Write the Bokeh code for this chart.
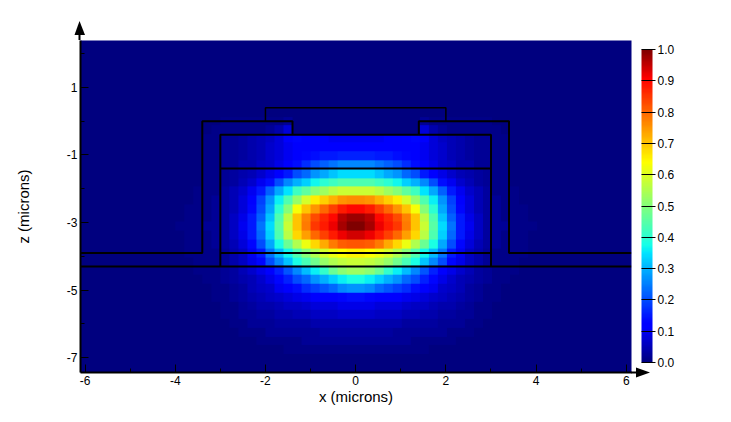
import numpy as np
from bokeh.embed import file_html
from bokeh.models import (ColorBar, Div, FixedTicker, LinearColorMapper,
                          PrintfTickFormatter, Range1d)
from bokeh.plotting import figure
from bokeh.resources import INLINE

x_ticks = [-6, -4, -2, 0, 2, 4, 6]
x_minor = [-5, -3, -1, 1, 3, 5]
z_ticks = [1, -1, -3, -5, -7]
z_minor = [2, 0, -2, -4, -6]
cbar_ticks = [0.0, 0.1, 0.2, 0.3, 0.4, 0.5, 0.6, 0.7, 0.8, 0.9, 1.0]

# half-width field table (percent), symmetric about x=0; cols x=.1,.3,...4.3
z_centres = [-0.01, -0.27, -0.53, -0.79, -1.05, -1.31, -1.57, -1.83, -2.09, -2.35, -2.61, -2.87,
             -3.13, -3.39, -3.65, -3.91, -4.17, -4.43, -4.69, -4.95, -5.21, -5.47, -5.73, -5.99,
             -6.25, -6.51, -6.77, -7.03]
field_rows = [
    [0, 0, 0, 0, 0, 0, 0, 2, 1, 1, 1, 1, 1, 1, 1, 0],
    [0, 0, 0, 0, 0, 0, 0, 8, 4, 2, 1, 1, 1, 1, 1, 1, 0],
    [10, 10, 10, 11, 11, 12, 13, 11, 8, 6, 5, 4, 3, 2, 2, 1, 1],
    [12, 12, 12, 12, 11, 11, 11, 10, 8, 7, 5, 4, 3, 2, 2, 1, 1],
    [16, 16, 15, 15, 14, 13, 11, 10, 8, 7, 5, 4, 3, 2, 2, 1, 1],
    [26, 26, 24, 22, 20, 17, 14, 11, 9, 7, 6, 4, 4, 2, 2, 1, 1],
    [34, 34, 32, 29, 27, 23, 20, 15, 12, 9, 7, 5, 4, 3, 2, 1, 1],
    [44, 44, 42, 40, 37, 33, 30, 26, 20, 14, 10, 7, 5, 3, 2, 1, 1],
    [58, 58, 56, 53, 50, 46, 42, 35, 29, 22, 15, 10, 7, 5, 3, 1, 1, 1],
    [76, 75, 72, 69, 66, 59, 52, 44, 36, 27, 19, 12, 8, 5, 3, 2, 1, 1],
    [90, 88, 84, 80, 75, 70, 63, 50, 40, 29, 20, 13, 8, 5, 3, 2, 1, 1, 1],
    [98, 96, 90, 87, 83, 77, 70, 56, 44, 32, 22, 15, 9, 6, 3, 2, 1, 1, 1],
    [100, 97, 92, 88, 85, 78, 70, 58, 45, 34, 24, 15, 10, 6, 3, 2, 2, 1, 1, 1],
    [94, 92, 88, 84, 80, 74, 68, 56, 44, 33, 23, 15, 9, 6, 3, 2, 1, 1, 1],
    [82, 81, 78, 73, 68, 62, 55, 47, 38, 29, 20, 13, 8, 5, 3, 2, 1, 1, 1],
    [65, 64, 62, 59, 55, 50, 44, 37, 31, 24, 15, 10, 6, 4, 2, 1, 1, 1, 1],
    [58, 57, 55, 52, 48, 43, 38, 32, 26, 20, 13, 9, 6, 4, 2, 1, 1, 1],
    [53, 51, 47, 41, 36, 31, 26, 21, 16, 11, 9, 7, 5, 3, 2, 1, 1, 1],
    [38, 36, 33, 30, 27, 23, 20, 16, 13, 9, 7, 5, 4, 3, 2, 1, 1],
    [27, 26, 23, 21, 19, 17, 14, 11, 10, 7, 6, 5, 3, 2, 1, 1],
    [14, 13, 12, 12, 11, 10, 9, 8, 7, 6, 5, 4, 3, 2, 1, 1],
    [9, 9, 8, 8, 8, 7, 6, 6, 5, 4, 4, 3, 2, 1, 1],
    [7, 7, 6, 6, 6, 5, 5, 4, 4, 3, 3, 2, 2, 1, 1],
    [4, 4, 4, 4, 4, 3, 3, 3, 3, 2, 2, 2, 1, 1],
    [3, 3, 3, 3, 2, 2, 2, 2, 2, 2, 1, 1, 1],
    [2, 2, 2, 2, 2, 2, 1, 1, 1, 1, 1],
    [1, 1, 1, 1, 1, 1, 1, 1],
    [0, 0, 0, 0],
]

# device outlines (microns)
ridge_x = [-2.0, -2.0, 2.0, 2.0]
ridge_z = [0.0, 0.4, 0.4, 0.0]
left_x = [-6.1, -3.4, -3.4, -1.4, -1.4]
left_z = [-3.9, -3.9, 0.0, 0.0, -0.4]
right_x = [6.11, 3.4, 3.4, 1.4, 1.4]
right_z = [-3.9, -3.9, 0.0, 0.0, -0.4]
box_x = [-3.0, -3.0, 3.0, 3.0]
box_z = [-4.3, -0.4, -0.4, -4.3]
layer_xs = [[-3.0, 3.0], [-3.0, 3.0], [-6.1, 6.11]]
layer_zs = [[-1.4, -1.4], [-3.9, -3.9], [-4.3, -4.3]]

X0, X1, Z0, Z1 = -6.1, 6.115, -7.44, 2.39
N_COLS, CELL_W, CELL_H = 22, 0.2, 0.26


def jet(v):
    r = np.interp(v, [0, .35, .64, .91, 1], [0, 0, 1, 1, .5])
    g = np.interp(v, [0, .125, .375, .64, .91, 1], [0, 0, 1, 1, 0, 0])
    b = np.interp(v, [0, .11, .35, .64, 1], [.5, 1, 1, 0, 0])
    return "#%02x%02x%02x" % (int(r * 255), int(g * 255), int(b * 255))


palette = [jet(i / 255) for i in range(256)]
mapper = LinearColorMapper(palette=palette, low=0, high=1)

half = np.zeros((len(field_rows), N_COLS))
for i, row in enumerate(field_rows):
    half[i, :len(row)] = np.array(row) / 100
full = np.hstack([half[:, ::-1], half])[::-1]

p = figure(width=723, height=414, output_backend="svg", toolbar_location=None,
           x_range=Range1d(X0, X1), y_range=Range1d(Z0, Z1),
           frame_width=551, frame_height=332,
           min_border_left=80, min_border_right=0, min_border_top=40, min_border_bottom=10,
           x_axis_label="x (microns)", y_axis_label="z (microns)")
p.background_fill_color = palette[0]
p.border_fill_color = "white"
p.outline_line_color = None
p.grid.visible = False

p.image(image=[full], x=-N_COLS * CELL_W, y=z_centres[-1] - CELL_H / 2,
        dw=2 * N_COLS * CELL_W, dh=len(z_centres) * CELL_H, color_mapper=mapper)

p.line(ridge_x, ridge_z, line_color="black", line_width=1.5)
p.line(left_x, left_z, line_color="black", line_width=2)
p.line(right_x, right_z, line_color="black", line_width=2)
p.line(box_x, box_z, line_color="black", line_width=2)
p.multi_line(layer_xs, layer_zs, line_color="black", line_width=2)

p.xaxis.ticker = FixedTicker(ticks=x_ticks, minor_ticks=x_minor)
p.yaxis.ticker = FixedTicker(ticks=z_ticks, minor_ticks=z_minor)
p.xaxis[0].major_label_overrides = {t: str(t) for t in x_ticks}
p.yaxis[0].major_label_overrides = {t: str(t) for t in z_ticks}
for ax in (p.xaxis[0], p.yaxis[0]):
    ax.axis_line_color = "black"
    ax.axis_line_width = 2
    ax.major_tick_in = 8
    ax.major_tick_out = 0
    ax.minor_tick_in = 4
    ax.minor_tick_out = 0
    ax.major_tick_line_color = "black"
    ax.minor_tick_line_color = "black"
    ax.major_label_text_font = "Liberation Sans"
    ax.major_label_text_font_size = "12px"
    ax.major_label_text_color = "black"
    ax.major_label_standoff = 3
    ax.axis_label_text_font = "Liberation Sans"
    ax.axis_label_text_font_size = "15px"
    ax.axis_label_text_font_style = "normal"
    ax.axis_label_text_color = "black"
p.xaxis[0].axis_label_standoff = 0
p.yaxis[0].axis_label_standoff = 32
p.yaxis[0].major_label_orientation = "horizontal"

cb = ColorBar(color_mapper=mapper, ticker=FixedTicker(ticks=cbar_ticks),
              formatter=PrintfTickFormatter(format="%.1f"),
              width=11, height=313, padding=0, margin=0, location=(10, 10),
              major_tick_in=11, major_tick_out=3, major_tick_line_color="black",
              major_tick_line_width=1, minor_tick_line_color=None, bar_line_color=None,
              label_standoff=2, major_label_text_font="Liberation Sans",
              major_label_text_font_size="12px", major_label_text_color="black")
p.add_layout(cb, "right")

# axis arrowheads: decoration past the frame, where glyphs and annotations get clipped
arrows_svg = ('<svg width="723" height="414" style="display:block">'
              '<path d="M79.5 40V35" stroke="black" stroke-width="2"/>'
              '<path d="M79.5 21L85 35H74.5Z" fill="black"/>'
              '<path d="M631 372.5H637" stroke="black" stroke-width="2"/>'
              '<path d="M650 372.5L636 367.5V377.5Z" fill="black"/></svg>')
p.elements = [Div(text=arrows_svg, width=723, height=414,
                  styles={"position": "absolute", "left": "0", "top": "0",
                          "pointer-events": "none"})]

open("out.html", "w").write(file_html(p, INLINE))
